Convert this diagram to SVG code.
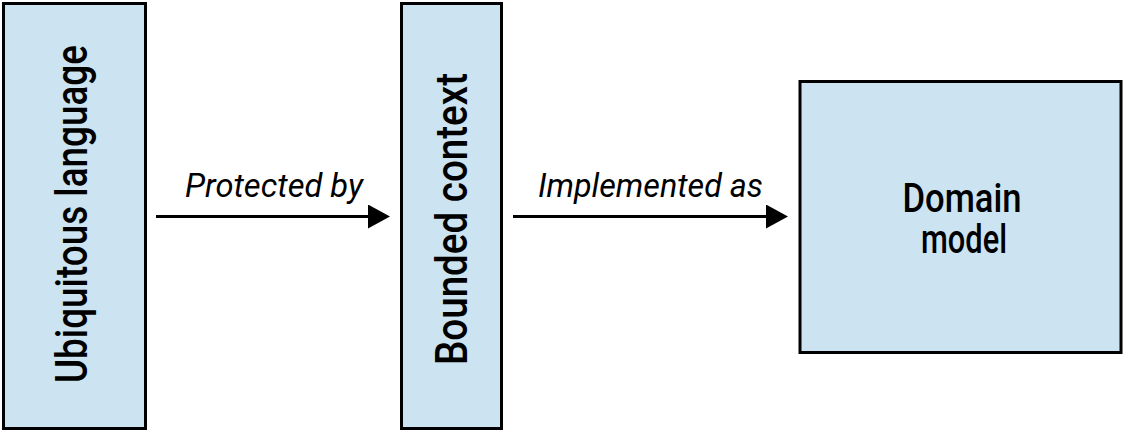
<svg xmlns="http://www.w3.org/2000/svg" width="1124" height="432" viewBox="0 0 1124 432">
  <style>
    .box { fill: #cce3f1; stroke: #000; stroke-width: 3; }
    .lbl { font-family: Roboto, "Liberation Sans", Arial, sans-serif; font-weight: 500; fill: #000; }
    .node { font-size: 44px; }
    .dm { font-size: 40px; text-anchor: middle; }
    .edge { font-size: 34px; font-style: italic; font-weight: 400; }
    .conn { stroke: #000; stroke-width: 3; fill: none; }
  </style>
  <defs>
    <marker id="arrow" markerUnits="userSpaceOnUse" markerWidth="22" markerHeight="24" refX="0" refY="12" orient="auto">
      <path d="M0,0 L22,12 L0,24 Z" fill="#000"/>
    </marker>
  </defs>
  <rect width="1124" height="432" fill="#fff"/>

  <g id="ubiquitous-language">
    <rect class="box" x="3.5" y="3.5" width="142" height="425"/>
    <text class="lbl node" transform="translate(87,383) rotate(-90)" textLength="338" lengthAdjust="spacingAndGlyphs">Ubiquitous language</text>
  </g>

  <g id="bounded-context">
    <rect class="box" x="401.5" y="3.5" width="100" height="425"/>
    <text class="lbl node" transform="translate(467,365) rotate(-90)" textLength="292" lengthAdjust="spacingAndGlyphs">Bounded context</text>
  </g>

  <g id="domain-model">
    <rect class="box" x="800" y="81.5" width="321" height="271"/>
    <text class="lbl dm"><tspan x="962" y="212" textLength="119" lengthAdjust="spacingAndGlyphs">Domain</tspan><tspan x="964" y="253" textLength="86" lengthAdjust="spacingAndGlyphs">model</tspan></text>
  </g>

  <g id="connectors">
    <line class="conn" x1="156" y1="216.5" x2="368" y2="216.5" marker-end="url(#arrow)"/>
    <text class="lbl edge" x="185" y="197" textLength="178" lengthAdjust="spacingAndGlyphs">Protected by</text>
    <line class="conn" x1="513" y1="216.5" x2="766" y2="216.5" marker-end="url(#arrow)"/>
    <text class="lbl edge" x="538" y="197" textLength="225" lengthAdjust="spacingAndGlyphs">Implemented as</text>
  </g>
</svg>
